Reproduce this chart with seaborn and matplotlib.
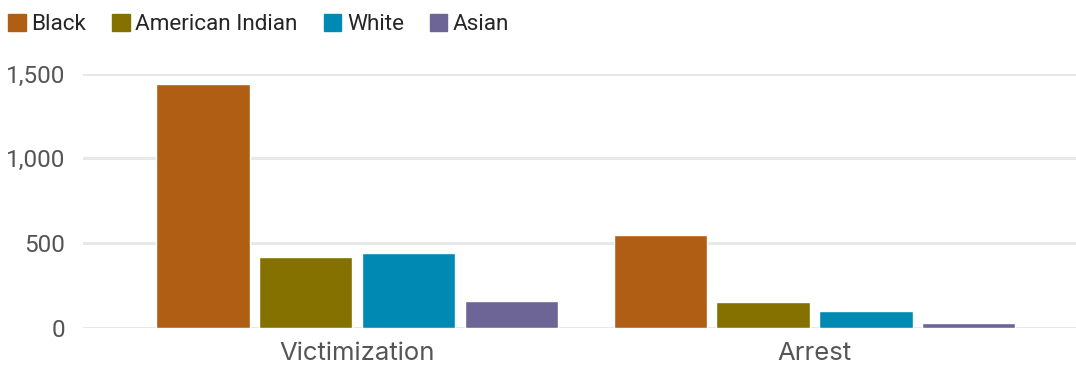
import pandas as pd
import seaborn as sns
import matplotlib.pyplot as plt
from matplotlib.ticker import FuncFormatter

categories = ["Victimization", "Arrest"]
groups = ["Black", "American Indian", "White", "Asian"]
black = [1439, 547]
american_indian = [417, 152]
white = [441, 99]
asian = [158, 28]
colors = ["#B15E15", "#847100", "#008AB3", "#6C6596"]

rows = []
for g, vals in zip(groups, [black, american_indian, white, asian]):
    for c, v in zip(categories, vals):
        rows.append({"category": c, "group": g, "value": v})
df = pd.DataFrame(rows)

sns.set_style("white")
plt.rcParams["font.family"] = ["Roboto", "DejaVu Sans"]

fig = plt.figure(figsize=(10.76, 3.66), dpi=100)
ax = fig.add_axes([83 / 1076, 38 / 366, 1 - 83 / 1076, (328 - 73.5) / 366])

sns.barplot(data=df, x="category", y="value", hue="group", order=categories,
            hue_order=groups, palette=colors, width=0.9, gap=0.094,
            saturation=1, ax=ax, legend=False)

ax.set_ylim(0, 1500)
ax.set_xlim(-0.6, 1.572)
ax.set_yticks([0, 500, 1000, 1500])
ax.yaxis.set_major_formatter(FuncFormatter(lambda v, p: f"{int(v):,}"))
ax.grid(axis="y", color="#E8E8E8", linewidth=2.2)
ax.set_axisbelow(True)
for s in ax.spines.values():
    s.set_visible(False)
ax.tick_params(axis="both", length=0, labelcolor="#555555")
ax.tick_params(axis="y", pad=13, labelsize=17.5)
ax.tick_params(axis="x", pad=10)
ax.set_xlabel("")
ax.set_ylabel("")
for lbl in ax.get_xticklabels():
    lbl.set_fontfamily(["Inter", "DejaVu Sans"])
    lbl.set_fontsize(18.5)

handles = [plt.Rectangle((0, 0), 1, 1, color=c) for c in colors]
fig.legend(handles, groups, loc="upper left", bbox_to_anchor=(-0.009, 1.012), ncol=4,
           frameon=False, fontsize=16.2, handlelength=0.78, handleheight=0.78,
           handletextpad=0.25, columnspacing=1.15, borderaxespad=0.4)

fig.savefig("out.png", dpi=100)
